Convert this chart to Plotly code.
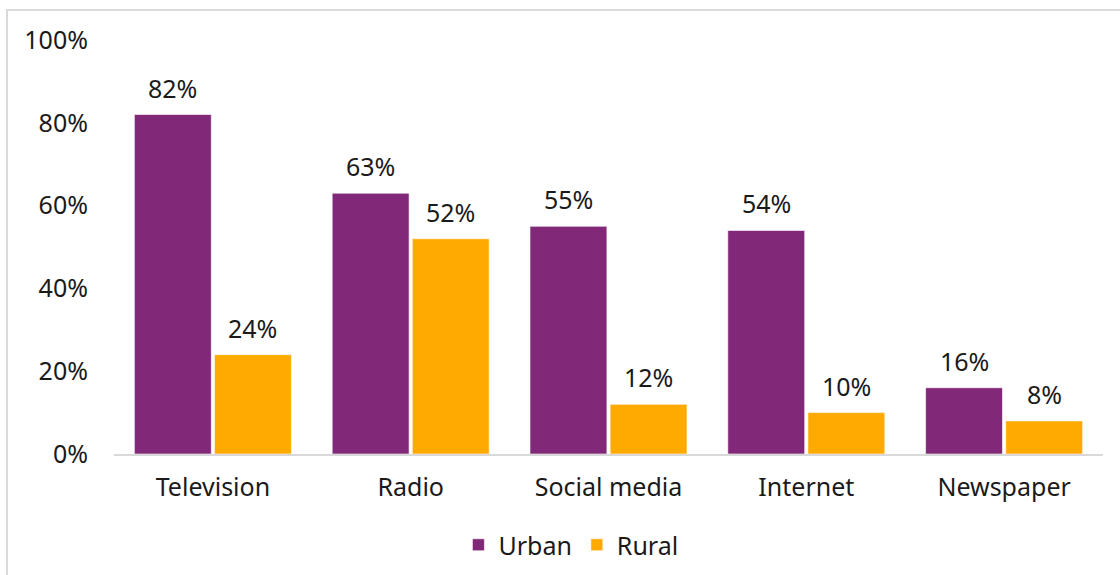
import plotly.graph_objects as go

categories = ["Television", "Radio", "Social media", "Internet", "Newspaper"]
urban = [82, 63, 55, 54, 16]
rural = [24, 52, 12, 10, 8]
y_ticks = [0, 20, 40, 60, 80, 100]
y_tick_labels = ["0%", "20%", "40%", "60%", "80%", "100%"]

W, H = 1120, 575
ML, MR, MT, MB = 114, 17, 40, 121
PW, PH = W - ML - MR, H - MT - MB

FONT = "Noto Sans, Lato, sans-serif"
FS = 25
TXT = "#1a1a1a"

fig = go.Figure()
fig.add_trace(go.Bar(
    name="Urban", x=categories, y=urban,
    marker=dict(color="#822878", line=dict(color="#ffffff", width=0.6)),
))
fig.add_trace(go.Bar(
    name="Rural", x=categories, y=rural,
    marker=dict(color="#FFAA00", line=dict(color="#ffffff", width=0.6)),
))

# value labels above each bar, shifted horizontally to the grouped bar centres
group_px = PW / len(categories)
bargap, bargroupgap = 0.19, 0.04
slot = group_px * (1 - bargap) / 2
for series, shift in ((urban, -slot / 2), (rural, slot / 2)):
    for cat, v in zip(categories, series):
        fig.add_annotation(
            x=cat, y=v, xref="x", yref="y", text=f"{v}%", showarrow=False,
            xshift=shift, yshift=27, yanchor="middle",
            font=dict(size=FS, family=FONT, color=TXT),
        )

# light frame around the chart area (left and top edges visible)
fig.add_shape(
    type="rect", xref="paper", yref="paper",
    x0=(7 - ML) / PW, x1=(W + 5 - ML) / PW,
    y0=-(H + 5 - MT - PH) / PH, y1=1 + (MT - 10) / PH,
    line=dict(color="#d9d9d9", width=2), fillcolor="rgba(0,0,0,0)", layer="below",
)

fig.update_layout(
    width=W, height=H,
    margin=dict(l=ML, r=MR, t=MT, b=MB, pad=0, autoexpand=False),
    paper_bgcolor="white", plot_bgcolor="white",
    barmode="group", bargap=bargap, bargroupgap=bargroupgap,
    font=dict(family=FONT, size=FS, color=TXT),
    showlegend=True,
    legend=dict(
        orientation="h", x=0.462, xanchor="center",
        yref="container", y=1 - 545 / H, yanchor="middle",
        font=dict(size=FS, family=FONT, color=TXT),
        itemwidth=30, tracegroupgap=0,
    ),
)
fig.update_xaxes(
    automargin=False,
    showgrid=False, showline=True, linecolor="#d9d9d9", linewidth=2,
    ticks="", ticklabelstandoff=10,
    tickfont=dict(size=FS, family=FONT, color=TXT),
)
fig.update_yaxes(
    automargin=False,
    range=[0, 100], tickvals=y_ticks, ticktext=y_tick_labels,
    showgrid=False, zeroline=False, showline=False, ticks="",
    ticklabelstandoff=25,
    tickfont=dict(size=FS, family=FONT, color=TXT),
)

fig.write_html("out.html")
